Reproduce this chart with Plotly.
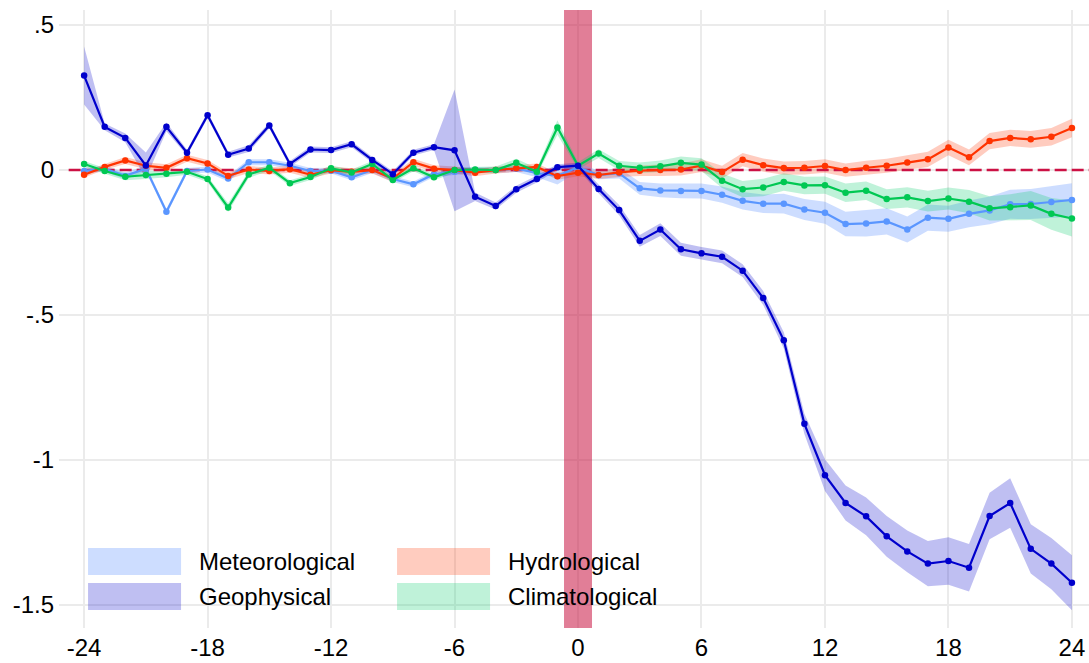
import plotly.graph_objects as go

months = list(range(-24, 25))

meteorological = [-0.003, 0.005, -0.020, 0.005, -0.144, -0.003, 0.002, -0.029, 0.027, 0.027,
                  0.015, -0.003, -0.002, -0.025, 0.000, -0.031, -0.049, -0.014, -0.006, 0.000,
                  0.000, 0.005, -0.010, -0.020, 0.010, -0.017, -0.011, -0.063, -0.070, -0.072,
                  -0.072, -0.085, -0.106, -0.116, -0.116, -0.136, -0.147, -0.186, -0.184, -0.177,
                  -0.205, -0.164, -0.168, -0.151, -0.139, -0.118, -0.117, -0.110, -0.103]
meteorological_ci = [0.01, 0.01, 0.012, 0.01, 0.01, 0.01, 0.01, 0.01, 0.01, 0.01,
                     0.01, 0.01, 0.01, 0.01, 0.01, 0.01, 0.01, 0.01, 0.01, 0.01,
                     0.01, 0.012, 0.015, 0.03, 0.015, 0.015, 0.018, 0.022, 0.024, 0.025,
                     0.026, 0.028, 0.03, 0.032, 0.034, 0.036, 0.038, 0.042, 0.045, 0.045,
                     0.045, 0.045, 0.045, 0.046, 0.048, 0.05, 0.052, 0.055, 0.058]

geophysical = [0.326, 0.149, 0.111, 0.016, 0.149, 0.060, 0.189, 0.053, 0.074, 0.154,
               0.021, 0.071, 0.069, 0.089, 0.035, -0.014, 0.060, 0.079, 0.068, -0.092,
               -0.124, -0.066, -0.031, 0.010, 0.015, -0.065, -0.138, -0.244, -0.205, -0.273,
               -0.287, -0.299, -0.347, -0.441, -0.587, -0.875, -1.052, -1.148, -1.194, -1.263,
               -1.315, -1.357, -1.348, -1.371, -1.193, -1.148, -1.306, -1.357, -1.423]
geophysical_ci = [0.10, 0.012, 0.015, 0.045, 0.015, 0.01, 0.01, 0.01, 0.012, 0.01,
                  0.01, 0.01, 0.01, 0.01, 0.01, 0.01, 0.01, 0.01, 0.21, 0.015,
                  0.012, 0.012, 0.012, 0.01, 0.01, 0.015, 0.018, 0.02, 0.022, 0.022,
                  0.022, 0.022, 0.022, 0.024, 0.028, 0.035, 0.055, 0.06, 0.065, 0.07,
                  0.072, 0.078, 0.082, 0.082, 0.08, 0.085, 0.085, 0.088, 0.095]

hydrological = [-0.016, 0.011, 0.033, 0.015, 0.008, 0.041, 0.023, -0.020, 0.002, -0.003,
                0.003, -0.016, 0.000, -0.006, 0.000, -0.029, 0.027, 0.005, 0.000, -0.009,
                0.000, 0.006, 0.011, -0.021, -0.009, -0.017, -0.008, -0.002, 0.000, 0.002,
                0.015, -0.007, 0.036, 0.017, 0.007, 0.008, 0.014, 0.000, 0.008, 0.015,
                0.026, 0.037, 0.078, 0.044, 0.100, 0.111, 0.106, 0.115, 0.145]
hydrological_ci = [0.01, 0.01, 0.012, 0.012, 0.012, 0.012, 0.012, 0.012, 0.012, 0.012,
                   0.012, 0.012, 0.012, 0.012, 0.012, 0.012, 0.012, 0.012, 0.012, 0.012,
                   0.012, 0.012, 0.012, 0.012, 0.012, 0.014, 0.016, 0.018, 0.02, 0.021,
                   0.022, 0.022, 0.023, 0.023, 0.023, 0.023, 0.023, 0.023, 0.024, 0.024,
                   0.025, 0.026, 0.027, 0.027, 0.028, 0.028, 0.029, 0.03, 0.032]

climatological = [0.021, -0.003, -0.023, -0.017, -0.013, -0.006, -0.031, -0.129, -0.015, 0.008,
                  -0.045, -0.024, 0.006, -0.008, 0.021, -0.034, 0.006, -0.025, 0.000, 0.002,
                  0.000, 0.025, -0.006, 0.147, 0.015, 0.057, 0.015, 0.008, 0.013, 0.025,
                  0.019, -0.037, -0.066, -0.060, -0.041, -0.053, -0.052, -0.078, -0.071, -0.100,
                  -0.094, -0.107, -0.098, -0.109, -0.132, -0.128, -0.122, -0.151, -0.167]
climatological_ci = [0.01, 0.01, 0.012, 0.014, 0.012, 0.01, 0.01, 0.015, 0.012, 0.01,
                     0.01, 0.01, 0.01, 0.01, 0.01, 0.01, 0.01, 0.01, 0.01, 0.01,
                     0.012, 0.014, 0.012, 0.025, 0.012, 0.015, 0.016, 0.018, 0.02, 0.022,
                     0.022, 0.025, 0.028, 0.03, 0.03, 0.03, 0.03, 0.032, 0.032, 0.034,
                     0.035, 0.036, 0.038, 0.04, 0.042, 0.045, 0.05, 0.055, 0.062]

series = [
    ("Meteorological", meteorological, meteorological_ci, "#5a96ff", "rgba(102,153,255,0.33)"),
    ("Hydrological", hydrological, hydrological_ci, "#ff3300", "rgba(255,51,0,0.25)"),
    ("Climatological", climatological, climatological_ci, "#00c853", "rgba(0,204,102,0.25)"),
    ("Geophysical", geophysical, geophysical_ci, "#0000cc", "rgba(0,0,204,0.25)"),
]

event_window = [-0.68, 0.68]
x_range = [-25.22, 24.83]
y_range = [-1.579, 0.552]
ref_line_start = -24.75

x_ticks = [-24, -18, -12, -6, 0, 6, 12, 18, 24]
x_tick_labels = ["-24", "-18", "-12", "-6", "0", "6", "12", "18", "24"]
y_ticks = [0.5, 0, -0.5, -1, -1.5]
y_tick_labels = [".5", "0", "-.5", "-1", "-1.5"]

FONT = "Liberation Sans, Arial, sans-serif"

fig = go.Figure()

# event window bar (above gridlines, below lines)
fig.add_trace(go.Scatter(
    x=[event_window[0], event_window[1], event_window[1], event_window[0], event_window[0]],
    y=[y_range[0], y_range[0], y_range[1], y_range[1], y_range[0]],
    fill="toself", fillcolor="rgba(200,20,65,0.55)", line=dict(width=0),
    mode="lines", hoverinfo="skip", showlegend=False))

for name, vals, ci, lc, fc in series:
    upper = [v + c for v, c in zip(vals, ci)]
    lower = [v - c for v, c in zip(vals, ci)]
    fig.add_trace(go.Scatter(x=months + months[::-1], y=upper + lower[::-1],
                             fill="toself", fillcolor=fc, line=dict(width=0),
                             mode="lines", hoverinfo="skip", showlegend=False))

# zero reference line
fig.add_trace(go.Scatter(x=[ref_line_start, x_range[1]], y=[0, 0], mode="lines",
                         line=dict(color="#cc1144", width=2.5, dash="12px,5px"),
                         hoverinfo="skip", showlegend=False))

for name, vals, ci, lc, fc in series:
    fig.add_trace(go.Scatter(x=months, y=vals, mode="lines+markers", name=name,
                             line=dict(color=lc, width=2.2),
                             marker=dict(color=lc, size=6.5), showlegend=False))

# manual legend (paper coordinates)
legend_items = [
    ("Meteorological", "rgba(102,153,255,0.33)", 0.0282, 0.1076),
    ("Geophysical", "rgba(0,0,204,0.25)", 0.0282, 0.0510),
    ("Hydrological", "rgba(255,51,0,0.25)", 0.3282, 0.1076),
    ("Climatological", "rgba(0,204,102,0.25)", 0.3282, 0.0510),
]
for label, fc, lx, ly in legend_items:
    fig.add_shape(type="rect", xref="paper", yref="paper", x0=lx, x1=lx + 0.0903,
                  y0=ly - 0.0218, y1=ly + 0.0218, fillcolor=fc, line=dict(width=0),
                  layer="above")
    fig.add_annotation(xref="paper", yref="paper", x=lx + 0.1058, y=ly, text=label,
                       showarrow=False, xanchor="left", yanchor="middle",
                       font=dict(size=24, color="#000000", family=FONT))

fig.update_layout(
    width=1089, height=663,
    margin=dict(l=59, r=0, t=10, b=35),
    paper_bgcolor="white", plot_bgcolor="white",
    font=dict(family=FONT, size=24, color="#000000"),
    showlegend=False,
)
fig.update_xaxes(range=x_range, tickvals=x_ticks, ticktext=x_tick_labels,
                 showgrid=True, gridcolor="#ebebeb", gridwidth=2, zeroline=False,
                 showline=False, ticks="", tickfont=dict(size=24), ticklabelstandoff=3)
fig.update_yaxes(range=y_range, tickvals=y_ticks, ticktext=y_tick_labels,
                 showgrid=True, gridcolor="#ebebeb", gridwidth=2, zeroline=False,
                 showline=False, ticks="", tickfont=dict(size=24), ticklabelstandoff=4)

fig.write_html("out.html", config={"displayModeBar": False},
               post_script="document.body.style.margin='0px';")
